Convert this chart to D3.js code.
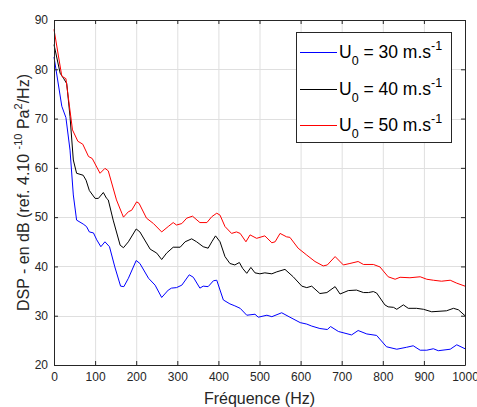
<!DOCTYPE html>
<html><head><meta charset="utf-8">
<script src="https://cdn.jsdelivr.net/npm/d3@7"></script>
<style>body{margin:0;background:#fff}svg{display:block}text{font-family:"Liberation Sans",Arial,sans-serif}</style>
</head><body>
<svg id="c" width="477" height="407"></svg>
<script>
const xTicks = [0,100,200,300,400,500,600,700,800,900,1000];
const yTicks = [20,30,40,50,60,70,80,90];

const freq30 = [0,19,29,39,47,55,71,79,86,96,104,114,124,135,148,162,170,181,200,209,230,246,262,278,286,298,311,329,339,355,363,375,388,396,412,428,440,453,469,489,497,518,530,554,574,599,615,627,647,665,673,692,724,740,761,785,809,834,858,874,891,907,923,935,964,980,1000];
const dsp30 = [82.5,72.5,70.2,63.6,54.5,49.4,48.6,48.1,47.0,46.8,45.4,44.0,45.0,44.0,39.9,36.0,35.9,37.6,41.2,40.6,37.6,36.2,33.7,35.2,35.6,35.7,36.2,38.3,37.8,35.6,36.0,35.9,37.1,37.2,33.2,32.4,32.0,31.5,30.1,30.3,29.7,30.1,29.8,30.6,29.7,28.6,28.3,27.9,27.4,27.2,27.8,26.8,26.1,27.0,26.3,26.0,23.7,23.2,23.6,23.9,23.0,23.0,23.3,22.9,23.2,24.1,23.3];

const freq40 = [0,15,23,31,39,47,55,71,78,86,100,108,120,128,132,144,161,169,181,200,209,234,250,262,274,290,307,319,335,347,363,375,384,393,404,416,428,440,451,459,469,479,489,501,513,530,542,562,582,603,615,627,647,664,684,696,716,736,753,765,777,785,805,813,826,834,850,862,882,899,919,955,972,984,1000];
const dsp40 = [85.0,79.2,78.2,77.1,70.4,61.6,58.9,58.5,57.5,55.4,53.8,53.8,55.0,53.8,53.5,49.4,44.3,43.8,45.0,47.6,47.0,43.5,42.7,41.4,42.7,43.9,43.9,45.0,45.6,45.0,44.0,43.7,45.0,46.2,45.0,42.0,40.6,40.3,40.8,39.6,38.6,39.8,38.7,38.5,38.7,38.5,38.9,39.4,37.9,36.0,35.7,36.0,34.5,34.7,35.9,34.4,35.1,35.2,34.7,34.7,34.9,34.6,32.2,31.8,31.7,31.3,32.2,31.5,31.5,31.3,30.8,31.0,31.5,31.2,30.0];

const freq50 = [0,19,29,45,58,70,84,93,112,124,132,152,165,169,181,189,201,207,225,242,262,278,290,298,311,323,337,355,372,384,396,404,416,432,444,453,467,477,493,513,530,538,550,566,574,594,615,635,655,665,684,704,720,740,753,777,793,813,830,842,866,891,907,923,943,964,980,1000];
const dsp50 = [88.1,78.6,78.1,67.7,65.4,64.8,62.3,61.9,58.9,59.9,59.4,53.5,50.8,50.0,51.1,51.4,53.1,52.8,49.8,48.7,47.0,48.1,48.9,48.4,48.7,49.8,50.2,48.9,48.9,50.1,50.8,50.4,48.1,46.7,47.0,46.7,45.0,46.4,45.7,46.2,44.8,45.0,46.7,46.0,45.9,43.7,42.3,41.0,40.1,40.3,42.0,40.3,40.6,41.0,40.4,40.4,39.9,37.9,37.4,37.8,37.7,37.9,37.4,37.2,37.0,37.2,36.6,36.0];

const seriesNames = ["30","40","50"];
const seriesColors = ["#0000ff","#000000","#ff0000"];

const svg = d3.select("#c");
const L=54, R=465, T=20, B=365;
const x = d3.scaleLinear().domain([0,1000]).range([L,R]);
const y = d3.scaleLinear().domain([20,90]).range([B,T]);
const axisCol = "#262626";

// grid
const g = svg.append("g");
g.selectAll(".gx").data(xTicks.slice(1,-1)).join("line")
  .attr("x1",d=>x(d)+0.5).attr("x2",d=>x(d)+0.5).attr("y1",T).attr("y2",B)
  .attr("stroke","#dfdfdf").attr("stroke-width",1);
g.selectAll(".gy").data(yTicks.slice(1,-1)).join("line")
  .attr("y1",d=>Math.round(y(d))+0.5).attr("y2",d=>Math.round(y(d))+0.5).attr("x1",L).attr("x2",R)
  .attr("stroke","#dfdfdf").attr("stroke-width",1);

// lines
const sets = [[freq30,dsp30],[freq40,dsp40],[freq50,dsp50]];
const line = d3.line().x(d=>x(d[0])).y(d=>y(d[1]));
sets.forEach((s,i)=>{
  const pts = s[0].map((f,k)=>[f,s[1][k]]);
  svg.append("path").datum(pts).attr("d",line).attr("fill","none")
    .attr("stroke",seriesColors[i]).attr("stroke-width",1).attr("stroke-linejoin","round");
});

// axes
const fs = "12px";
const xAxis = svg.append("g").attr("transform",`translate(0,${B})`)
  .call(d3.axisBottom(x).tickValues(xTicks).tickFormat(d3.format("d")).tickSizeInner(-4).tickSizeOuter(0).tickPadding(7));
const yAxis = svg.append("g").attr("transform",`translate(${L},0)`)
  .call(d3.axisLeft(y).tickValues(yTicks).tickFormat(d3.format("d")).tickSizeInner(-4).tickSizeOuter(0).tickPadding(6));
const xTop = svg.append("g").attr("transform",`translate(0,${T})`)
  .call(d3.axisTop(x).tickValues(xTicks).tickSizeInner(-4).tickSizeOuter(0).tickFormat(""));
const yRight = svg.append("g").attr("transform",`translate(${R},0)`)
  .call(d3.axisRight(y).tickValues(yTicks).tickSizeInner(-4).tickSizeOuter(0).tickFormat(""));
[xAxis,yAxis,xTop,yRight].forEach(a=>{
  a.selectAll("path").attr("stroke",axisCol).attr("stroke-width",1);
  a.selectAll("line").attr("stroke",axisCol);
  a.selectAll("text").attr("fill",axisCol).style("font-size",fs).style("font-family","Liberation Sans, Arial, sans-serif");
});

// axis labels
svg.append("text").attr("x",(L+R)/2).attr("y",404).attr("text-anchor","middle")
  .attr("fill",axisCol).style("font-size","16px").text("Fréquence (Hz)");

const yl = svg.append("text").attr("transform",`translate(29,${(T+B)/2}) rotate(-90)`)
  .attr("text-anchor","middle").attr("fill",axisCol).style("font-size","16px");
yl.append("tspan").text("DSP - en dB (ref. 4.10 ");
yl.append("tspan").attr("dy",-7).style("font-size","11px").text("-10");
yl.append("tspan").attr("dy",7).text(" Pa");
yl.append("tspan").attr("dy",-7).style("font-size","11px").text("2");
yl.append("tspan").attr("dy",7).text("/Hz)");

// legend
const lg = svg.append("g");
lg.append("rect").attr("x",296.5).attr("y",32.5).attr("width",155).attr("height",110)
  .attr("fill","#fff").attr("stroke",axisCol).attr("stroke-width",1);
const rowsY = [52,89,125];
seriesNames.forEach((n,i)=>{
  lg.append("line").attr("x1",300).attr("x2",337).attr("y1",rowsY[i]+0.5).attr("y2",rowsY[i]+0.5)
    .attr("stroke",seriesColors[i]).attr("stroke-width",1);
  const t = lg.append("text").attr("x",339).attr("y",rowsY[i]+6).attr("fill","#000").style("font-size","17.5px");
  t.append("tspan").text("U");
  t.append("tspan").attr("dy",7).style("font-size","12.5px").text("0");
  t.append("tspan").attr("dy",-7).text(" = "+n+" m.s");
  t.append("tspan").attr("dy",-8).style("font-size","12.5px").text("-1");
});
</script>
</body></html>
